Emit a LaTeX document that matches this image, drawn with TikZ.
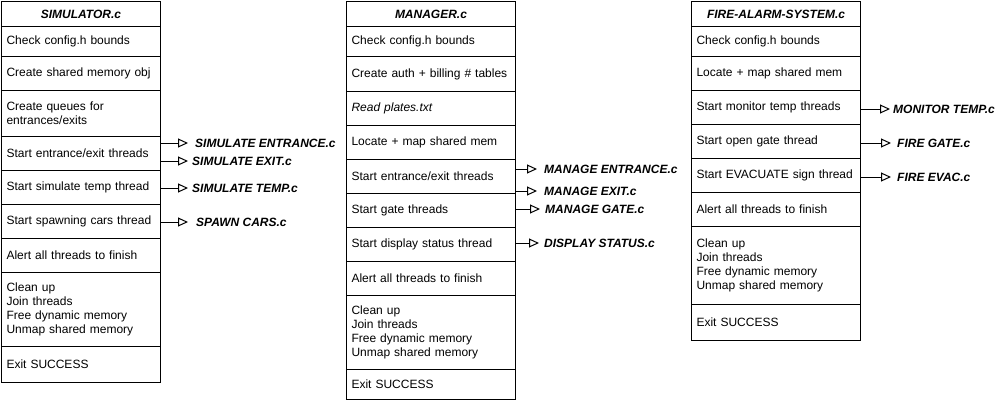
\documentclass[tikz,border=0pt]{standalone}
\usepackage{fontspec}
\setmainfont{Liberation Sans}
\usetikzlibrary{arrows.meta}

\tikzset{
  row/.style={draw, line width=1pt, anchor=north west, align=left, inner xsep=5pt, inner ysep=0pt, font=\fontsize{12}{14}\selectfont},
  title/.style={row, align=center, font=\fontsize{12}{14}\selectfont\bfseries\itshape},
  file/.style={anchor=west, inner sep=0pt, font=\fontsize{12}{14}\selectfont\bfseries\itshape},
  call/.style={line width=1pt, -{Triangle[open, length=10pt, width=9pt]}},
}

\begin{document}
\begin{tikzpicture}[x=1pt,y=-1pt]
    \useasboundingbox (0,0) rectangle (998,402);

    % simulator
    \node[title,text width=149pt,minimum height=25pt] (s0) at (1,1) {SIMULATOR.c};
    \node[row,text width=149pt,minimum height=30pt] (s1) at (1,26) {Check config.h bounds};
    \node[row,text width=149pt,minimum height=34pt] (s2) at (1,56) {Create shared memory obj};
    \node[row,text width=149pt,minimum height=46pt] (s3) at (1,90) {Create queues for\\entrances/exits};
    \node[row,text width=149pt,minimum height=34pt] (s4) at (1,136) {Start entrance/exit threads};
    \node[row,text width=149pt,minimum height=34pt] (s5) at (1,170) {Start simulate temp thread};
    \node[row,text width=149pt,minimum height=34pt] (s6) at (1,204) {Start spawning cars thread};
    \node[row,text width=149pt,minimum height=34pt] (s7) at (1,238) {Alert all threads to finish};
    \node[row,text width=149pt,minimum height=74pt] (s8) at (1,272) {Clean up\\Join threads\\Free dynamic memory\\Unmap shared memory};
    \node[row,text width=149pt,minimum height=36pt] (s9) at (1,346) {Exit SUCCESS};

    \node[file] (se) at (195,143) {SIMULATE ENTRANCE.c};
    \node[file] (sx) at (192,161) {SIMULATE EXIT.c};
    \node[file] (st) at (192,188) {SIMULATE TEMP.c};
    \node[file] (sc) at (196,222) {SPAWN CARS.c};
    \draw[call,shorten >=7pt] (s4.east |- se) -- (se.west);
    \draw[call,shorten >=4pt] (s4.east |- sx) -- (sx.west);
    \draw[call,shorten >=4pt] (s5.east |- st) -- (st.west);
    \draw[call,shorten >=8pt] (s6.east |- sc) -- (sc.west);

    % manager
    \node[title,text width=159pt,minimum height=25pt] (m0) at (346,1) {MANAGER.c};
    \node[row,text width=159pt,minimum height=30pt] (m1) at (346,26) {Check config.h bounds};
    \node[row,text width=159pt,minimum height=35pt] (m2) at (346,56) {Create auth + billing \# tables};
    \node[row,text width=159pt,minimum height=34pt] (m3) at (346,91) {\itshape Read plates.txt};
    \node[row,text width=159pt,minimum height=34pt] (m4) at (346,125) {Locate + map shared mem};
    \node[row,text width=159pt,minimum height=34pt] (m5) at (346,159) {Start entrance/exit threads};
    \node[row,text width=159pt,minimum height=34pt] (m6) at (346,193) {Start gate threads};
    \node[row,text width=159pt,minimum height=34pt] (m7) at (346,227) {Start display status thread};
    \node[row,text width=159pt,minimum height=34pt] (m8) at (346,261) {Alert all threads to finish};
    \node[row,text width=159pt,minimum height=74pt] (m9) at (346,295) {Clean up\\Join threads\\Free dynamic memory\\Unmap shared memory};
    \node[row,text width=159pt,minimum height=30pt] (m10) at (346,369) {Exit SUCCESS};

    \node[file] (me) at (544,169) {MANAGE ENTRANCE.c};
    \node[file] (mx) at (544,191) {MANAGE EXIT.c};
    \node[file] (mg) at (545,209) {MANAGE GATE.c};
    \node[file] (md) at (544,243) {DISPLAY STATUS.c};
    \draw[call,shorten >=7pt] (m5.east |- me) -- (me.west);
    \draw[call,shorten >=7pt] (m5.east |- mx) -- (mx.west);
    \draw[call,shorten >=5pt] (m6.east |- mg) -- (mg.west);
    \draw[call,shorten >=5pt] (m7.east |- md) -- (md.west);

    % fire alarm
    \node[title,text width=159pt,minimum height=25pt] (f0) at (691,1) {FIRE-ALARM-SYSTEM.c};
    \node[row,text width=159pt,minimum height=30pt] (f1) at (691,26) {Check config.h bounds};
    \node[row,text width=159pt,minimum height=34pt] (f2) at (691,56) {Locate + map shared mem};
    \node[row,text width=159pt,minimum height=34pt] (f3) at (691,90) {Start monitor temp threads};
    \node[row,text width=159pt,minimum height=34pt] (f4) at (691,124) {Start open gate thread};
    \node[row,text width=159pt,minimum height=34pt] (f5) at (691,158) {Start EVACUATE sign thread};
    \node[row,text width=159pt,minimum height=34pt] (f6) at (691,192) {Alert all threads to finish};
    \node[row,text width=159pt,minimum height=78pt] (f7) at (691,226) {Clean up\\Join threads\\Free dynamic memory\\Unmap shared memory};
    \node[row,text width=159pt,minimum height=36pt] (f8) at (691,304) {Exit SUCCESS};

    \node[file] (ft) at (893,109) {MONITOR TEMP.c};
    \node[file] (fg) at (897,143) {FIRE GATE.c};
    \node[file] (fv) at (897,177) {FIRE EVAC.c};
    \draw[call,shorten >=3pt] (f3.east |- ft) -- (ft.west);
    \draw[call,shorten >=6pt] (f4.east |- fg) -- (fg.west);
    \draw[call,shorten >=6pt] (f5.east |- fv) -- (fv.west);
\end{tikzpicture}
\end{document}
